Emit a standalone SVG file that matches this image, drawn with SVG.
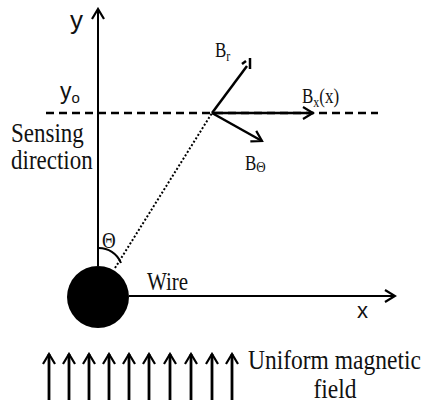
<svg xmlns="http://www.w3.org/2000/svg" width="424" height="403" viewBox="0 0 424 403">
<style>
.ax{stroke:#000;stroke-width:2;fill:none}
.vec{stroke:#000;stroke-width:2.5;fill:none}
.fld{stroke:#000;stroke-width:2.8;fill:none}
.serif{font-family:"Liberation Serif","Times New Roman",serif;fill:#111}
.sans{font-family:"Liberation Sans",Arial,sans-serif;fill:#111}
</style>
<defs>
<marker id="head" viewBox="-13 -8 15 16" refX="0" refY="0" markerWidth="15" markerHeight="16" markerUnits="userSpaceOnUse" orient="auto">
<path d="M-10,-6 L0,0 L-10,6" fill="none" stroke="#000" stroke-width="2.2"/>
</marker>
</defs>
<rect width="424" height="403" fill="#fff"/>
<g id="sensing-line">
<line x1="46" y1="113" x2="378" y2="113" stroke="#000" stroke-width="2.5" stroke-dasharray="8 5"/>
<text class="serif" transform="translate(11,142) scale(1,1.18)" font-size="23">Sensing</text>
<text class="serif" transform="translate(11,169) scale(1,1.18)" font-size="23">direction</text>
<text class="sans" x="60" y="99" font-size="23">y<tspan font-size="15" dy="4">o</tspan></text>
</g>
<g id="y-axis">
<line class="ax" x1="98" y1="266" x2="98" y2="9" marker-end="url(#head)"/>
<text class="sans" x="70" y="29" font-size="26">y</text>
</g>
<g id="x-axis">
<line class="ax" x1="129" y1="296" x2="395" y2="296" marker-end="url(#head)"/>
<text class="sans" x="357" y="318" font-size="22">x</text>
</g>
<g id="wire">
<circle cx="98" cy="297" r="31" fill="#000"/>
<text class="serif" transform="translate(147,290) scale(1,1.2)" font-size="21">Wire</text>
</g>
<g id="angle">
<path class="ax" d="M98,248 A24,24 0 0 1 121,263"/>
<text class="serif" transform="translate(102,248) scale(1,1.2)" font-size="19">Θ</text>
</g>
<g id="field">
<text class="serif" transform="translate(248,369) scale(1,1.15)" font-size="23.5">Uniform magnetic</text>
<text class="serif" transform="translate(335,398) scale(1,1.15)" font-size="23.5" text-anchor="middle">field</text>
</g>
<g id="connectors">
<line x1="115" y1="268" x2="212" y2="113" stroke="#000" stroke-width="2" stroke-dasharray="2 2"/>
<line class="vec" x1="212" y1="113" x2="313" y2="113" marker-end="url(#head)"/>
<line class="vec" x1="212" y1="113" x2="262" y2="141" marker-end="url(#head)"/>
<line class="vec" x1="212" y1="113" x2="247" y2="66"/>
<line class="vec" x1="242" y1="64" x2="246" y2="61"/>
<line class="vec" x1="250" y1="58" x2="250" y2="69"/>
<line class="fld" x1="49" y1="400" x2="49" y2="354" marker-end="url(#head)"/>
<line class="fld" x1="69" y1="400" x2="69" y2="354" marker-end="url(#head)"/>
<line class="fld" x1="89" y1="400" x2="89" y2="354" marker-end="url(#head)"/>
<line class="fld" x1="109" y1="400" x2="109" y2="354" marker-end="url(#head)"/>
<line class="fld" x1="129" y1="400" x2="129" y2="354" marker-end="url(#head)"/>
<line class="fld" x1="149" y1="400" x2="149" y2="354" marker-end="url(#head)"/>
<line class="fld" x1="170" y1="400" x2="170" y2="354" marker-end="url(#head)"/>
<line class="fld" x1="191" y1="400" x2="191" y2="354" marker-end="url(#head)"/>
<line class="fld" x1="212" y1="400" x2="212" y2="354" marker-end="url(#head)"/>
<line class="fld" x1="232" y1="400" x2="232" y2="354" marker-end="url(#head)"/>
</g>
<g id="labels">
<text class="serif" transform="translate(215,57) scale(1,1.2)" font-size="17">B<tspan font-size="12" dy="3">r</tspan></text>
<text class="serif" transform="translate(302,103) scale(1,1.2)" font-size="17">B<tspan font-size="12" dy="3">x</tspan><tspan dy="-3">(x)</tspan></text>
<text class="serif" transform="translate(245,170) scale(1,1.2)" font-size="17">B<tspan font-size="13" dy="2">Θ</tspan></text>
</g>
</svg>
